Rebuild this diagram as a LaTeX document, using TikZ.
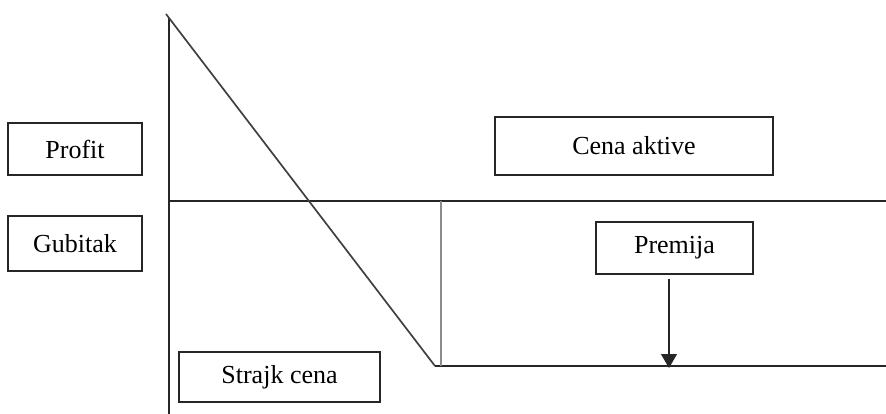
\documentclass[tikz,border=0pt]{standalone}
\usepackage{fontspec}
\setmainfont{Liberation Serif}
\usetikzlibrary{arrows.meta}
\begin{document}
\begin{tikzpicture}[x=1pt,y=-1pt,
  label box/.style={draw=black!85,line width=1.7pt,inner sep=0pt,
    font=\fontsize{26}{30}\selectfont},
  axis/.style={draw=black!85,line width=1.9pt},
  payoff/.style={draw=black!75,line width=1.7pt},
  guide/.style={draw=black!45,line width=1.2pt}]
  \useasboundingbox (0,0) rectangle (886,414);
  % axes
  \coordinate (ytop) at (169,18);
  \coordinate (ybot) at (169,414);
  \coordinate (x0) at (169,201);
  \coordinate (xend) at (886,201);
  \draw[axis] (ytop) -- (ybot);
  \draw[axis] (x0) -- (xend);
  % payoff line: falling segment, then flat at the strike
  \coordinate (pstart) at (166,14);
  \coordinate (kink) at (435,366);
  \coordinate (pend) at (886,366);
  \coordinate (strike) at (441,366);
  \coordinate (strikeaxis) at (441,201);
  \draw[payoff] (pstart) -- (kink);
  \draw[axis] (kink) -- (pend);
  \draw[guide] (strikeaxis) -- (strike);
  % labels
  \node[label box,minimum width=134pt,minimum height=52pt] (profit) at (75,149) {Profit};
  \node[label box,minimum width=134pt,minimum height=55pt] (gubitak) at (75,243.5) {Gubitak};
  \node[label box,minimum width=201pt,minimum height=50pt] (strajk) at (279.5,377) {Strajk cena};
  \node[label box,minimum width=278pt,minimum height=58pt] (cena) at (634,146) {Cena aktive};
  \node[label box,minimum width=157pt,minimum height=52pt] (premija) at (674.5,248) {Premija};
  % premium arrow down to the flat segment
  \coordinate (ptip) at (669,368);
  \draw[axis,line width=1.4pt,-{Triangle[width=16pt,length=14pt]}]
    ([yshift=-4pt]premija.south -| ptip) -- (ptip);
\end{tikzpicture}
\end{document}
